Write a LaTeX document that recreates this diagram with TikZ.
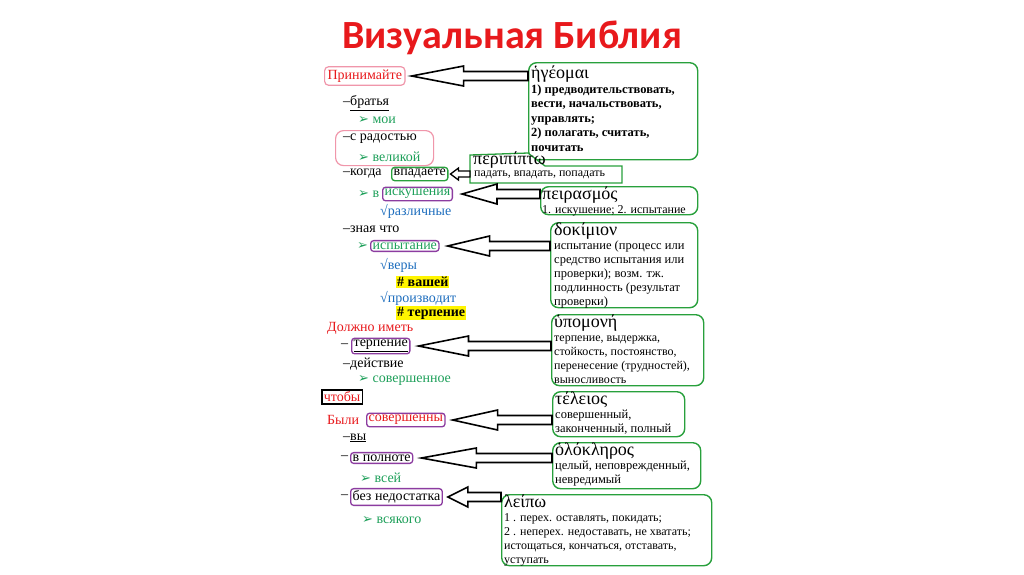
\documentclass[tikz,border=0pt]{standalone}
\usepackage{fontspec}
\setmainfont{Liberation Serif}
\newfontfamily\titlefont{Carlito}
\newfontfamily\dv{DejaVu Sans}
\usetikzlibrary{calc}
\definecolor{tred}{RGB}{232,25,28}
\definecolor{tgreen}{RGB}{30,160,90}
\definecolor{tblue}{RGB}{30,110,190}
\definecolor{bgreen}{RGB}{40,160,60}
\definecolor{bpurple}{RGB}{140,60,160}
\definecolor{bpink}{RGB}{240,150,170}
\definecolor{hl}{RGB}{255,245,0}
\newcommand\gk{\fontsize{18}{16}\selectfont}
\newcommand\ar{{\dv\fontsize{13}{13}\selectfont ➢}}
\tikzset{
 lt/.style={anchor=west,inner sep=0pt,font=\fontsize{14}{16}\selectfont},
 pbox/.style={lt,draw=bpurple,line width=1.3pt,rounded corners=3pt,inner sep=2pt},
 gbox/.style={lt,draw=bgreen,line width=1.3pt,rounded corners=3pt,inner sep=2pt},
 defbox/.style={anchor=north west,draw=bgreen,line width=1.4pt,rounded corners=8pt,inner sep=0pt},
 deftext/.style={anchor=north west,align=left,inner sep=0pt,font=\fontsize{12.5}{14.5}\selectfont},
 arr/.style={draw=black,line width=1.6pt,fill=white},
}
\newcommand\hollowarrow[3]{%
 \draw[arr] let \p1=(#1), \p2=(#2) in (\x1,\y1) -- (\x1+#3,\y1-10) -- (\x1+#3,\y1-4.5) -- (\x2,\y1-4.5) -- (\x2,\y1+4.5) -- (\x1+#3,\y1+4.5) -- (\x1+#3,\y1+10) -- cycle;}
\begin{document}
\begin{tikzpicture}[x=1pt,y=-1pt]
\useasboundingbox[fill=white] (0,0) rectangle (1024,574);
\node[font=\titlefont\bfseries\fontsize{40}{44}\selectfont,text=tred] (title) at (512,38) {Визуальная Библия};

% left column
\node[lt,text=tred,draw=bpink,line width=1.2pt,rounded corners=4pt,inner sep=3pt] (l1) at (324,76) {Принимайте};
\node[lt] (l2) at (343,103) {–\underline{братья}};
\node[lt,text=tgreen] (l3) at (358,120) {\ar{} мои};
\node[draw=bpink,line width=1.2pt,rounded corners=8pt,minimum width=98pt,minimum height=35pt,anchor=north west] (pk) at (335,130) {};
\node[lt] (l4) at (343,139) {–с радостью};
\node[lt,text=tgreen] (l5) at (358,157) {\ar{} великой};
\node[lt] (l6) at (343,174) {–когда};
\node[gbox] (l6b) at (391,174) {впадаете};
\node[lt,text=tgreen] (l7) at (358,194) {\ar{} в};
\node[pbox,text=tgreen] (l7b) at (382,194) {искушения};
\node[lt,text=tblue] (l8) at (380,211) {√различные};
\node[lt] (l9) at (343,229) {–зная что};
\node[lt,text=tgreen] (l10) at (357,246) {\ar};
\node[pbox,text=tgreen] (l10b) at (370,246) {испытание};
\node[lt,text=tblue] (l11) at (380,265) {√веры};
\node[lt,fill=hl,inner sep=1pt] (l12) at (396,282) {\bfseries \# вашей};
\node[lt,text=tblue] (l13) at (380,298) {√производит};
\node[lt,fill=hl,inner sep=1pt] (l14) at (396,313) {\bfseries \# терпение};
\node[lt,text=tred] (l15) at (327,328) {Должно иметь};
\node[lt] (l16) at (341,346) {–};
\node[pbox] (l16b) at (351,346) {\underline{терпение}};
\node[lt] (l17) at (343,364) {–действие};
\node[lt,text=tgreen] (l18) at (358,381) {\ar{} совершенное};
\node[lt,text=tred,draw=black,line width=1.6pt,inner sep=2pt] (l19) at (321,397) {чтобы};
\node[lt,text=tred] (l20) at (327,420) {Были};
\node[pbox,text=tred] (l20b) at (366,420) {совершенны};
\node[lt] (l21) at (343,438) {–\underline{вы}};
\node[lt] (l22) at (341,458) {–};
\node[pbox] (l22b) at (350,458) {в полноте};
\node[lt,text=tgreen] (l23) at (360,478) {\ar{} всей};
\node[lt] (l24) at (341,497) {–};
\node[pbox] (l24b) at (350,497) {без недостатка};
\node[lt,text=tgreen] (l25) at (362,520) {\ar{} всякого};

% definition boxes
\node[defbox,minimum width=169pt,minimum height=97pt] (d1) at (528,62) {};
\node[defbox,minimum width=157pt,minimum height=28pt] (d3) at (540,186) {};
\node[defbox,minimum width=147pt,minimum height=85pt] (d4) at (550,222) {};
\node[defbox,minimum width=152pt,minimum height=71pt] (d5) at (551,314) {};
\node[defbox,minimum width=132pt,minimum height=45pt] (d6) at (552,391) {};
\node[defbox,minimum width=148pt,minimum height=46pt] (d7) at (552,442) {};
\node[defbox,minimum width=210pt,minimum height=71pt] (d8) at (501,494) {};
\draw[bgreen,line width=1.3pt,fill=white] (470,183) -- (470,155) -- (528,153) -- (537,160) -- (545,166) -- (622,166) -- (622,183) -- cycle;

% arrows
\coordinate (a1) at ($(l1.east)+(6,0)$);
\hollowarrow{a1}{d1.west |- l1}{52}
\coordinate (a2) at ($(l6b.east)+(2,0)$);
\draw[arr,line width=1.3pt] let \p1=(a2) in (\x1,\y1) -- (\x1+8,\y1-6) -- (\x1+8,\y1-3) -- (470,\y1-3) -- (470,\y1+3) -- (\x1+8,\y1+3) -- (\x1+8,\y1+6) -- cycle;
\coordinate (a3) at ($(l7b.east)+(9,0)$);
\hollowarrow{a3}{d3.west |- l7b}{35}
\coordinate (a4) at ($(l10b.east)+(8,0)$);
\hollowarrow{a4}{d4.west |- l10b}{42}
\coordinate (a5) at ($(l16b.east)+(8,0)$);
\hollowarrow{a5}{d5.west |- l16b}{50}
\coordinate (a6) at ($(l20b.east)+(7,0)$);
\hollowarrow{a6}{d6.west |- l20b}{45}
\coordinate (a7) at ($(l22b.east)+(8,0)$);
\hollowarrow{a7}{d7.west |- l22b}{55}
\coordinate (a8) at ($(l24b.east)+(5,0)$);
\hollowarrow{a8}{d8.west |- l24b}{20}

% definition texts
\node[deftext] (t1) at (531,66) {{\gk ἡγέομαι}\\\bfseries 1) предводительствовать,\\\bfseries вести, начальствовать,\\\bfseries управлять;\\\bfseries 2) полагать, считать,\\\bfseries почитать};
\node[anchor=north west,inner sep=0pt,font=\gk] (d2) at (473,152) {περιπίπτω};
\node[anchor=west,inner sep=0pt,font=\fontsize{12}{14}\selectfont] (d2t) at (474,175) {падать, впадать, попадать};
\node[deftext,font=\fontsize{12}{13.5}\selectfont] (t3) at (542,187) {{\gk πειρασμός}\\1. искушение; 2. испытание};
\node[deftext,font=\fontsize{12.5}{14}\selectfont] (t4) at (554,223) {{\gk δοκίμιον}\\испытание (процесс или\\средство испытания или\\проверки); возм. тж.\\подлинность (результат\\проверки)};
\node[deftext,font=\fontsize{12}{14}\selectfont] (t5) at (554,315) {{\gk ὑπομονή}\\терпение, выдержка,\\стойкость, постоянство,\\перенесение (трудностей),\\выносливость};
\node[deftext,font=\fontsize{12.5}{14}\selectfont] (t6) at (555,392) {{\gk τέλειος}\\совершенный,\\законченный, полный};
\node[deftext,font=\fontsize{12.5}{14}\selectfont] (t7) at (555,443) {{\gk ὁλόκληρος}\\целый, неповрежденный,\\невредимый};
\node[deftext,font=\fontsize{12}{14}\selectfont] (t8) at (504,495) {{\gk λείπω}\\1 . перех. оставлять, покидать;\\2 . неперех. недоставать, не хватать;\\истощаться, кончаться, отставать,\\уступать};
\end{tikzpicture}
\end{document}
